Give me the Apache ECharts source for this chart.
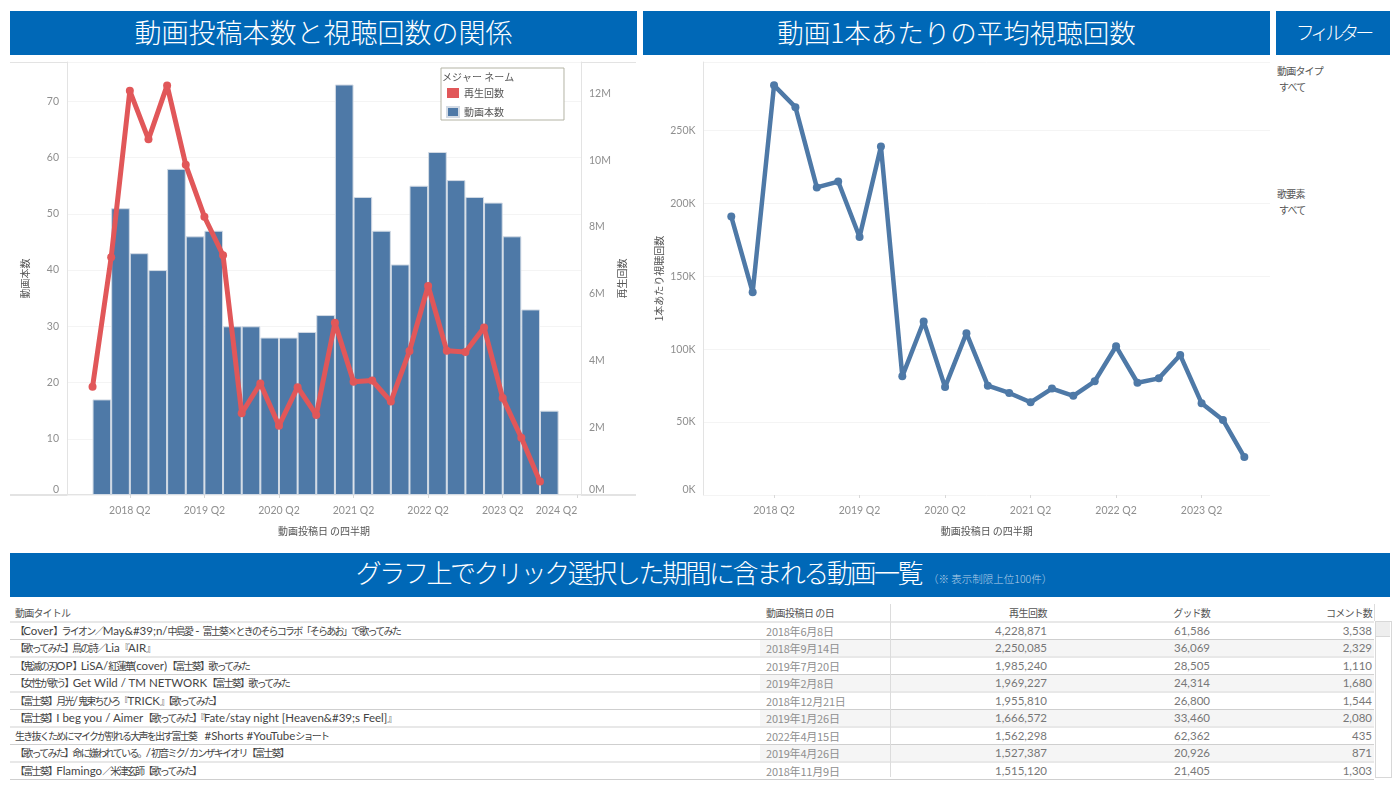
<!DOCTYPE html>
<html>
<head>
<meta charset="utf-8">
<script src="https://cdn.jsdelivr.net/npm/echarts@6/dist/echarts.min.js"></script>
<style>
  html, body { margin: 0; padding: 0; background: #fff; }
  body { width: 1400px; height: 787px; position: relative; overflow: hidden;
         font-family: "Noto Sans CJK JP", sans-serif; color: #555; }
  #chart { position: absolute; left: 0; top: 0; width: 1400px; height: 552px; }
  .banner { position: absolute; background: #0068b7; color: #fff; text-align: center;
            font-weight: 300; white-space: nowrap; }
  .rule { position: absolute; background: #e3e3e3; }
  .abs { position: absolute; white-space: nowrap; font-size: 10px; line-height: 14px; }
  .num { font-family: Lato, sans-serif; font-size: 11.5px; color: #777; text-align: right; }
  .ttl { font-family: Lato, "Noto Sans CJK JP", sans-serif; font-size: 11.5px; }
  .ttl span { font-family: "Noto Sans CJK JP", sans-serif; font-size: 10px; letter-spacing: -1.75px; }
</style>
</head>
<body>
<div class="banner" style="left:10px;top:11px;width:627px;height:44px;font-size:27px;line-height:41px">動画投稿本数と視聴回数の関係</div>
<div class="banner" style="left:643px;top:11px;width:627px;height:44px;font-size:26.5px;line-height:41px">動画1本あたりの平均視聴回数</div>
<div class="banner" style="left:1276px;top:11px;width:114px;height:44px;font-size:19px;line-height:41px;letter-spacing:-4px">フィルター</div>
<div class="banner" style="left:10px;top:553px;width:1380px;height:44px;font-size:26px;line-height:37px;letter-spacing:-2.45px;text-indent:8px">
  グラフ上でクリック選択した期間に含まれる動画一覧<span style="font-size:10.5px;letter-spacing:0;color:#b5cfe8;margin-left:7px">（※ 表示制限上位100件）</span>
</div>
<div class="rule" style="left:10px;top:62px;width:626px;height:1px"></div>
<div class="rule" style="left:10px;top:494px;width:626px;height:2px"></div>
<div id="filters"></div>
<div id="table"></div>
<div id="chart"></div>
<script>
// 四半期 (2017 Q4 - 2023 Q4)
var quarters = ['2017 Q4','2018 Q1','2018 Q2','2018 Q3','2018 Q4','2019 Q1','2019 Q2','2019 Q3','2019 Q4',
  '2020 Q1','2020 Q2','2020 Q3','2020 Q4','2021 Q1','2021 Q2','2021 Q3','2021 Q4','2022 Q1','2022 Q2',
  '2022 Q3','2022 Q4','2023 Q1','2023 Q2','2023 Q3','2023 Q4']
var videoCount = [17,51,43,40,58,46,47,30,30,28,28,29,32,73,53,47,41,55,61,56,53,52,46,33,15]
var playCount = [3.23,7.1,12.07,10.62,12.23,9.86,8.31,7.16,2.44,3.33,2.07,3.22,2.39,5.14,3.38,3.42,2.79,4.3,6.24,4.31,4.27,5.0,2.9,1.71,0.4]
var avgPlays = [191,139,281,266,211,215,177,239,81.4,119,74,111,75,70,63.6,73,68,78,102,77,80,96,63,51.5,26]
var leftTicks = ['2018 Q2','2019 Q2','2020 Q2','2021 Q2','2022 Q2','2023 Q2','2024 Q2']
var rightTicks = ['2018 Q2','2019 Q2','2020 Q2','2021 Q2','2022 Q2','2023 Q2']

// 動画一覧
var tableHead = ['動画タイトル','動画投稿日 の日','再生回数','グッド数','コメント数']
var titles = ['【Cover】ライオン／May&#39;n/中島愛 - 富士葵×ときのそらコラボ「そらあお」で歌ってみた',
  '【歌ってみた】鳥の詩／Lia『AIR』',
  '【鬼滅の刃OP】LiSA/紅蓮華(cover)【富士葵】歌ってみた',
  '【女性が歌う】Get Wild / TM NETWORK【富士葵】歌ってみた',
  '【富士葵】月光/鬼束ちひろ『TRICK』【歌ってみた】',
  '【富士葵】I beg you / Aimer【歌ってみた】『Fate/stay night [Heaven&#39;s Feel]』',
  '生き抜くためにマイクが割れる大声を出す富士葵　#Shorts #YouTubeショート',
  '【歌ってみた】命に嫌われている。/初音ミク/カンザキイオリ【富士葵】',
  '【富士葵】Flamingo／米津玄師【歌ってみた】']
var dates = ['2018年6月8日','2018年9月14日','2019年7月20日','2019年2月8日','2018年12月21日','2019年1月26日','2022年4月15日','2019年4月26日','2018年11月9日']
var plays = ['4,228,871','2,250,085','1,985,240','1,969,227','1,955,810','1,666,572','1,562,298','1,527,387','1,515,120']
var goods = ['61,586','36,069','28,505','24,314','26,800','33,460','62,362','20,926','21,405']
var comments = ['3,538','2,329','1,110','1,680','1,544','2,080','435','871','1,303']

var filterNames = ['動画タイプ','歌要素']
var filterValues = ['すべて','すべて']

function tickIndex(label) {
  // 2017 Q4 を 0 とした四半期番号
  var p = label.split(' Q')
  return (+p[0] - 2017) * 4 + (+p[1]) - 4
}

var gray = '#8f8f8f'
var lineGray = '#e3e3e3'
var jp = '"Noto Sans CJK JP", sans-serif'
var latin = 'Lato, "Noto Sans CJK JP", sans-serif'

function xAxis(gridIndex, min, max, ticks) {
  return {
    type: 'value', gridIndex: gridIndex, min: min, max: max,
    name: '動画投稿日 の四半期', nameLocation: 'middle', nameGap: 31,
    nameTextStyle: { color: '#555', fontSize: 10, fontFamily: jp },
    splitLine: { show: false },
    axisLine: { show: false, onZero: false },
    axisTick: { show: true, length: 3, lineStyle: { color: '#d8d8d8' }, customValues: ticks.map(tickIndex) },
    axisLabel: {
      color: gray, fontSize: 10.5, fontFamily: latin, margin: 10,
      customValues: ticks.map(tickIndex),
      alignMaxLabel: gridIndex == 0 ? 'right' : null,
      formatter: function (v) { return quarters[v] || ticks[ticks.length - 1] }
    }
  }
}

function yAxis(gridIndex, max, interval, unit, title, side, showSplit, nameGap) {
  return {
    type: 'value', gridIndex: gridIndex, position: side, min: 0, max: max, interval: interval,
    name: title, nameLocation: 'middle', nameGap: nameGap,
    nameTextStyle: { color: '#555', fontSize: 10, fontFamily: jp },
    axisLine: { show: true, onZero: false, lineStyle: { color: lineGray } },
    axisTick: { show: false },
    splitLine: { show: showSplit, lineStyle: { color: '#f4f4f4' } },
    axisLabel: {
      color: gray, fontSize: 10.5, fontFamily: latin, margin: 8,
      verticalAlignMinLabel: 'bottom', showMaxLabel: false,
      formatter: function (v) { return v + unit }
    }
  }
}

var chart = echarts.init(document.getElementById('chart'), null, { renderer: 'canvas' })

var option = {
  animation: false,
  textStyle: { fontFamily: jp },
  grid: [
    { left: 67, width: 514, top: 62, height: 433 },
    { left: 703.5, width: 566.5, top: 62, height: 433 }
  ],
  xAxis: [
    xAxis(0, -1.37, 26.2, leftTicks),
    xAxis(1, -1.3, 25.2, rightTicks)
  ],
  yAxis: [
    yAxis(0, 77, 10, '', '動画本数', 'left', true, 37),
    yAxis(0, 12.93, 2, 'M', '再生回数', 'right', false, 36),
    yAxis(1, 297, 50, 'K', '1本あたり視聴回数', 'left', true, 39)
  ],
  legend: {
    data: ['再生回数', '動画本数'], orient: 'vertical', left: 441, top: 68,
    padding: [20, 60, 2, 5], itemWidth: 12, itemHeight: 10, itemGap: 8, icon: 'rect',
    backgroundColor: '#fff', borderColor: '#b3b3a4', borderWidth: 1,
    textStyle: { color: '#555', fontSize: 10, fontFamily: jp }, selectedMode: false
  },
  graphic: [{
    type: 'text', left: 442, top: 72, z: 100,
    style: { text: 'メジャー ネーム', fill: '#555', font: '10px ' + jp }
  }],
  series: [
    {
      name: '動画本数', type: 'bar', xAxisIndex: 0, yAxisIndex: 0, barWidth: '100%',
      itemStyle: { color: '#4e79a7', borderColor: '#d3dbe5', borderWidth: 1 },
      data: videoCount.map(function (v, i) { return [i + 0.5, v] })
    },
    {
      name: '再生回数', type: 'line', xAxisIndex: 0, yAxisIndex: 1, z: 5,
      symbol: 'circle', symbolSize: 8,
      lineStyle: { color: '#e15759', width: 5 }, itemStyle: { color: '#e15759' },
      data: playCount.map(function (v, i) { return [i, v] })
    },
    {
      name: '1本あたり視聴回数', type: 'line', xAxisIndex: 1, yAxisIndex: 2,
      symbol: 'circle', symbolSize: 8,
      lineStyle: { color: '#4e79a7', width: 4.5 }, itemStyle: { color: '#4e79a7' },
      data: avgPlays.map(function (v, i) { return [i, v] })
    }
  ]
}
chart.setOption(option)

// フィルターと一覧表
function put(parent, cls, css, text) {
  var d = document.createElement('div')
  d.className = cls
  d.style.cssText = css
  if (text != null) d.textContent = text
  parent.appendChild(d)
  return d
}

// 和文だけ詰める
function putTitle(parent, css, text) {
  var d = put(parent, 'abs ttl', css)
  text.split(/([^\x00-\x7f]+)/).forEach(function (part, i) {
    if (i % 2 == 1) {
      var s = document.createElement('span')
      s.textContent = part
      d.appendChild(s)
    } else {
      d.appendChild(document.createTextNode(part))
    }
  })
}

var filters = document.getElementById('filters')
filterNames.forEach(function (n, i) {
  var y = i == 0 ? 64 : 187
  put(filters, 'abs', 'left:1277px;top:' + y + 'px;color:#555;letter-spacing:-.8px', n)
  put(filters, 'abs', 'left:1279px;top:' + (y + 16) + 'px;color:#555;letter-spacing:-.8px', filterValues[i])
})

var tb = document.getElementById('table')
var rowH = 17.55
var top0 = 622
put(tb, 'abs', 'left:15px;top:606px;color:#555;letter-spacing:-.8px', tableHead[0])
put(tb, 'abs', 'left:766px;top:606px;color:#555;letter-spacing:-.5px', tableHead[1])
put(tb, 'abs', 'left:947px;top:606px;width:100px;text-align:right;color:#555;letter-spacing:-.5px', tableHead[2])
put(tb, 'abs', 'left:1110px;top:606px;width:100px;text-align:right;color:#555;letter-spacing:-.8px', tableHead[3])
put(tb, 'abs', 'left:1272px;top:606px;width:100px;text-align:right;color:#555;letter-spacing:-.8px', tableHead[4])
put(tb, 'rule', 'left:10px;top:621px;width:1364px;height:2px;background:#e8e8e8')
titles.forEach(function (t, i) {
  var y = top0 + i * rowH
  if (i % 2 == 1) put(tb, 'rule', 'left:760px;top:' + y + 'px;width:614px;height:' + rowH + 'px;background:#f5f5f5')
  var line = i % 2 == 0 ? 'height:1px;background:#cfcfcf' : 'height:2px;background:#e8e8e8'
  put(tb, 'rule', 'left:10px;top:' + (y + rowH - 1) + 'px;width:1364px;' + line)
  var ty = y + 1.5
  putTitle(tb, 'left:15px;top:' + ty + 'px;color:#444', t)
  put(tb, 'abs', 'left:766px;top:' + ty + 'px;color:#8f8f8f;font-size:11px;letter-spacing:-.2px', dates[i])
  put(tb, 'abs num', 'left:947px;top:' + ty + 'px;width:100px', plays[i])
  put(tb, 'abs num', 'left:1110px;top:' + ty + 'px;width:100px', goods[i])
  put(tb, 'abs num', 'left:1272px;top:' + ty + 'px;width:100px', comments[i])
})
put(tb, 'rule', 'left:890px;top:604px;width:1px;height:173px;background:#dcdcdc')
put(tb, 'rule', 'left:1374px;top:604px;width:1px;height:17px;background:#dcdcdc')
put(tb, 'abs', 'left:1375px;top:621px;width:15px;height:155px;border:1px solid #d8d8d8;background:#fff')
put(tb, 'abs', 'left:1376px;top:622px;width:14px;height:14px;background:#eee;border-bottom:1px solid #d8d8d8')
</script>
</body>
</html>
